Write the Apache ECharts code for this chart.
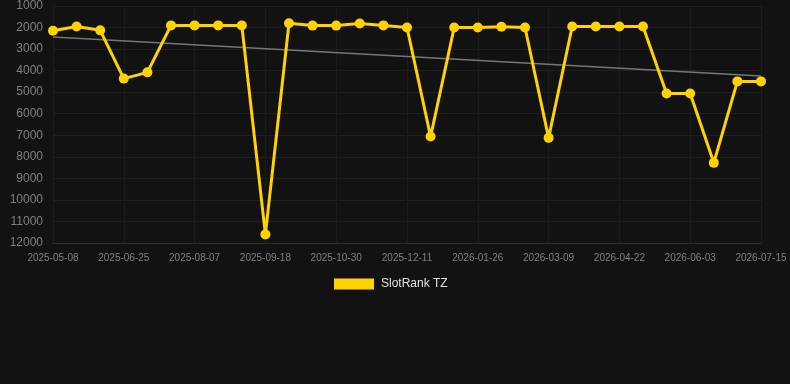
<!DOCTYPE html>
<html>
<head>
<meta charset="utf-8">
<script src="https://cdn.jsdelivr.net/npm/echarts@6/dist/echarts.min.js"></script>
<style>
html,body{margin:0;padding:0;background:#121212;}
#chart{width:790px;height:384px;}
</style>
</head>
<body>
<div id="chart"></div>
<script>
var categories = [
  '2025-05-08','2025-05-24','2025-06-09','2025-06-25','2025-07-09','2025-07-23',
  '2025-08-07','2025-08-21','2025-09-04','2025-09-18','2025-10-02','2025-10-16',
  '2025-10-30','2025-11-13','2025-11-27','2025-12-11','2025-12-26','2026-01-10',
  '2026-01-26','2026-02-09','2026-02-23','2026-03-09','2026-03-24','2026-04-07',
  '2026-04-22','2026-05-06','2026-05-20','2026-06-03','2026-06-17','2026-07-01',
  '2026-07-15'
];
var rankValues = [
  2150, 1950, 2130, 4370, 4080, 1900, 1900, 1900, 1900, 11600, 1800,
  1910, 1910, 1810, 1900, 2000, 7060, 2000, 2000, 1960, 2000,
  7120, 1950, 1950, 1950, 1950, 5060, 5060, 8280, 4500, 4500
];
var trendStart = 2440;
var trendEnd = 4250;
var seriesName = 'SlotRank TZ';

var chart = echarts.init(document.getElementById('chart'));
chart.setOption({
  backgroundColor: '#121212',
  animation: false,
  grid: {left: 53, right: 29, top: 6, bottom: 141},
  legend: {
    data: [{name: seriesName, icon: 'rect'}],
    top: 278,
    left: 334,
    padding: 0,
    itemWidth: 40,
    itemHeight: 11,
    itemGap: 10,
    textStyle: {color: '#e0e0e0', fontSize: 12, padding: [0, 0, 0, 2], fontFamily: 'Liberation Sans, Arial, sans-serif'}
  },
  xAxis: {
    type: 'category',
    data: categories,
    boundaryGap: false,
    axisTick: {show: false},
    axisLine: {show: true, lineStyle: {color: '#2e2e2e'}},
    axisLabel: {interval: 2, color: '#808080', fontSize: 10, margin: 10, fontFamily: 'Liberation Sans, Arial, sans-serif'},
    splitLine: {show: true, interval: 2, lineStyle: {color: '#1c1c1c'}}
  },
  yAxis: {
    type: 'value',
    inverse: true,
    min: 1000,
    max: 12000,
    interval: 1000,
    axisLine: {show: false},
    axisTick: {show: false},
    axisLabel: {color: '#808080', fontSize: 12, margin: 10, fontFamily: 'Liberation Sans, Arial, sans-serif',
      formatter: function (v) { return String(v); }},
    splitLine: {show: true, lineStyle: {color: '#1f1f1f'}}
  },
  series: [
    {
      name: seriesName,
      type: 'line',
      data: rankValues,
      color: '#ffd200',
      lineStyle: {width: 3, color: '#ffd200'},
      itemStyle: {color: '#ffd200'},
      symbol: 'circle',
      symbolSize: 10,
      z: 3
    },
    {
      name: 'trend',
      type: 'line',
      data: [[0, trendStart], [categories.length - 1, trendEnd]],
      symbol: 'none',
      lineStyle: {width: 1.5, color: '#777'},
      silent: true,
      z: 2
    }
  ]
});
</script>
</body>
</html>
